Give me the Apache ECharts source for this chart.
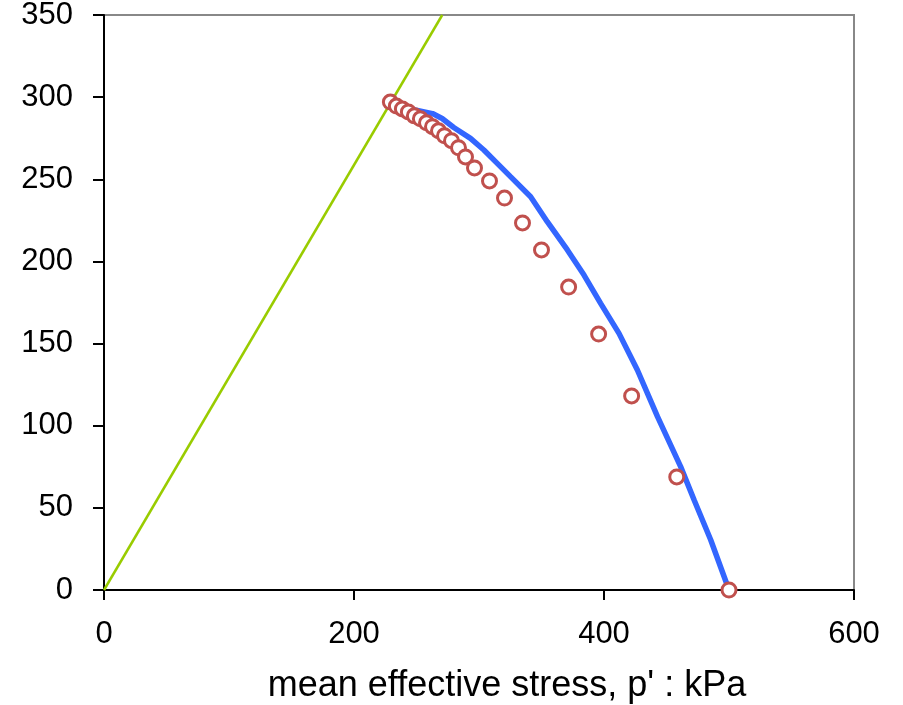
<!DOCTYPE html>
<html>
<head>
<meta charset="utf-8">
<script src="https://cdn.jsdelivr.net/npm/echarts@6/dist/echarts.min.js"></script>
<style>
html,body{margin:0;padding:0;background:#fff;}
#chart{width:903px;height:705px;}
</style>
</head>
<body>
<div id="chart"></div>
<script>
// Critical state line (q = M p')
var cslLine = [[0, 0], [270.6, 350]];
// Blue stress path (model)
var pathP = [229, 245, 262.8, 270.5, 279.8, 293.2, 303.9, 314.6, 325.2, 341.3, 354.6, 370.7, 384.0, 397.3, 412.0, 426.7, 442.8, 461.3, 472.1, 485.4, 500];
var pathQ = [297.0, 292.8, 290.0, 287.0, 281.5, 274.9, 267.8, 259.7, 251.6, 239.4, 224.2, 207.0, 191.7, 174.5, 156.2, 133.9, 105.5, 75.1, 54.8, 30.4, 0];
// Red circles (test data)
var testP = [229.1, 233.9, 238.7, 243.5, 248.3, 253.1, 258.0, 262.8, 267.6, 272.4, 278.0, 283.6, 289.2, 296.4, 308.4, 320.4, 334.8, 350.0, 371.7, 395.7, 422.1, 458.2, 500];
var testQ = [297.0, 294.6, 292.8, 291.0, 288.6, 286.8, 284.4, 282.0, 279.5, 276.5, 273.5, 269.2, 263.6, 256.9, 249.0, 238.6, 223.4, 207.0, 184.4, 155.8, 118.1, 68.8, 0];
var xTicks = [0, 200, 400, 600];
var yTicks = [0, 50, 100, 150, 200, 250, 300, 350];
var xTitle = "mean effective stress, p' : kPa";

function zip(a, b) { return a.map(function (v, i) { return [v, b[i]]; }); }

var chart = echarts.init(document.getElementById('chart'), null, {renderer: 'canvas'});
var font = "'Liberation Sans', Arial, Helvetica, sans-serif";
chart.setOption({
  animation: false,
  backgroundColor: '#fff',
  grid: {
    left: 104, right: 49, top: 15, bottom: 115,
    containLabel: false, outerBoundsMode: 'none',
    show: true, borderColor: '#888', borderWidth: 2, backgroundColor: '#fff'
  },
  xAxis: {
    type: 'value', min: xTicks[0], max: xTicks[xTicks.length - 1], interval: 200,
    name: xTitle, nameLocation: 'middle', nameGap: 78,
    nameTextStyle: {fontSize: 36, color: '#000', fontFamily: font, padding: [0, 0, 0, 56]},
    axisLine: {show: true, onZero: false, lineStyle: {color: '#000', width: 2}},
    axisTick: {show: true, length: 10, lineStyle: {color: '#000', width: 2}},
    axisLabel: {fontSize: 31, color: '#000', fontFamily: font, margin: 29},
    splitLine: {show: false}
  },
  yAxis: {
    type: 'value', min: yTicks[0], max: yTicks[yTicks.length - 1], interval: 50,
    axisLine: {show: true, onZero: false, lineStyle: {color: '#000', width: 2}},
    axisTick: {show: true, length: 11, lineStyle: {color: '#000', width: 2}},
    axisLabel: {fontSize: 31, color: '#000', fontFamily: font, margin: 31},
    splitLine: {show: false}
  },
  series: [
    {
      type: 'line', data: cslLine, showSymbol: false, symbol: 'none',
      lineStyle: {color: '#99cc00', width: 2.5}, z: 2, clip: true
    },
    {
      type: 'line', data: zip(pathP, pathQ), showSymbol: false, symbol: 'none',
      lineStyle: {color: '#3366ff', width: 5.5}, z: 3
    },
    {
      type: 'scatter', data: zip(testP, testQ), symbol: 'circle', symbolSize: 14,
      itemStyle: {color: '#fff', borderColor: '#c0504d', borderWidth: 3, opacity: 1},
      z: 4, clip: false
    }
  ]
});
</script>
</body>
</html>
